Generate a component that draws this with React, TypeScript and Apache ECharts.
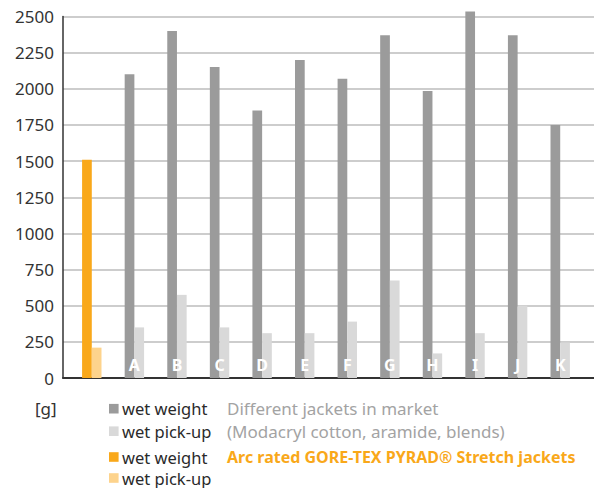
import React, { useEffect, useRef } from "react";
import * as echarts from "echarts";

const categories = ["", "A", "B", "C", "D", "E", "F", "G", "H", "I", "J", "K"];
const wetWeight = [1510, 2100, 2400, 2150, 1850, 2200, 2070, 2370, 1985, 2535, 2370, 1750];
const wetPickup = [210, 350, 575, 350, 310, 310, 390, 675, 170, 310, 500, 245];
const yTicks = { min: 0, max: 2500, interval: 250 };
const unitLabel = "[g]";
const legendRows = [
  { label: "wet weight", desc: "Different jackets in market", color: "#9b9b9b", descColor: "#a3a3a3", bold: false },
  { label: "wet pick-up", desc: "(Modacryl cotton, aramide, blends)", color: "#d9d9d9", descColor: "#a3a3a3", bold: false },
  { label: "wet weight", desc: "Arc rated GORE-TEX PYRAD® Stretch jackets", color: "#f9a81a", descColor: "#f9a81a", bold: true },
  { label: "wet pick-up", desc: "", color: "#fdd38c", descColor: "#a3a3a3", bold: false },
];

const DARK = "#9b9b9b";
const LIGHT = "#d9d9d9";
const ORANGE = "#f9a81a";
const LIGHT_ORANGE = "#fdd38c";
const FONT = "Noto Sans";

export default function App() {
  const ref = useRef<HTMLDivElement>(null);
  useEffect(() => {
    if (!ref.current) return;
    const chart = echarts.init(ref.current, undefined, { renderer: "svg" });
    const rowY = [408.7, 431.2, 457, 478];
    const graphics: any[] = [
      {
        type: "text",
        x: 35,
        y: rowY[0],
        style: { text: unitLabel, fill: "#333", font: `17px "${FONT}"`, verticalAlign: "middle", lineHeight: 17 },
      },
    ];
    legendRows.forEach((r, i) => {
      graphics.push({
        type: "rect",
        shape: { x: 109, y: rowY[i] - 4.8, width: 9.6, height: 9.6 },
        style: { fill: r.color },
      });
      graphics.push({
        type: "text",
        x: 122,
        y: rowY[i],
        style: {
          text: r.label,
          fill: "#2a2a2a",
          font: `16.5px "${FONT}"`,
          verticalAlign: "middle",
          lineHeight: 16,
        },
      });
      if (r.desc) {
        graphics.push({
          type: "text",
          x: 227,
          y: rowY[i],
          style: {
            text: r.desc,
            fill: r.descColor,
            font: r.bold ? `bold 16px "${FONT}"` : `17px "${FONT}"`,
            verticalAlign: "middle",
            lineHeight: 16,
          },
        });
      }
    });

    chart.setOption({
      animation: false,
      grid: [
        { left: 63, right: 0, top: 16.5, bottom: 110 },
        { left: 70.5, right: 12.5, top: 16.5, bottom: 110 },
      ],
      xAxis: [
        {
          gridIndex: 0,
          type: "value",
          min: 0,
          max: 1,
          axisLine: { show: true, lineStyle: { color: "#333", width: 2 } },
          axisTick: { show: false },
          axisLabel: { show: false },
          splitLine: { show: false },
        },
        {
          gridIndex: 1,
          type: "category",
          data: categories,
          axisLine: { show: false },
          axisTick: { show: false },
          splitLine: { show: false },
          axisLabel: {
            margin: -13,
            verticalAlign: "middle",
            color: "#ffffff",
            fontFamily: FONT,
            fontWeight: "bold",
            fontSize: 16,
          },
          z: 10,
        },
      ],
      yAxis: [
        {
          gridIndex: 0,
          type: "value",
          min: yTicks.min,
          max: yTicks.max,
          interval: yTicks.interval,
          axisLine: { show: true, lineStyle: { color: "#333", width: 1.5 } },
          axisTick: { show: false },
          axisLabel: {
            color: "#333",
            fontFamily: FONT,
            fontSize: 17,
            margin: 9,
            formatter: (v: number) => String(v),
          },
          splitLine: { show: true, lineStyle: { color: "#bdbdbd", width: 1.5 } },
        },
        {
          gridIndex: 1,
          type: "value",
          min: yTicks.min,
          max: yTicks.max,
          interval: yTicks.interval,
          show: false,
        },
      ],
      series: [
        {
          name: "wet weight",
          type: "bar",
          xAxisIndex: 1,
          yAxisIndex: 1,
          clip: false,
          barWidth: 9.7,
          barGap: "0%",
          data: wetWeight.map((v, i) => ({ value: v, itemStyle: { color: i === 0 ? ORANGE : DARK } })),
        },
        {
          name: "wet pick-up",
          type: "bar",
          xAxisIndex: 1,
          yAxisIndex: 1,
          clip: false,
          barWidth: 9.7,
          barGap: "0%",
          data: wetPickup.map((v, i) => ({ value: v, itemStyle: { color: i === 0 ? LIGHT_ORANGE : LIGHT } })),
        },
      ],
      graphic: graphics,
    });
    return () => chart.dispose();
  }, []);
  return (
    <div
      ref={ref}
      style={{ position: "fixed", left: 0, top: 0, width: 594, height: 488, background: "#fff" }}
    />
  );
}
